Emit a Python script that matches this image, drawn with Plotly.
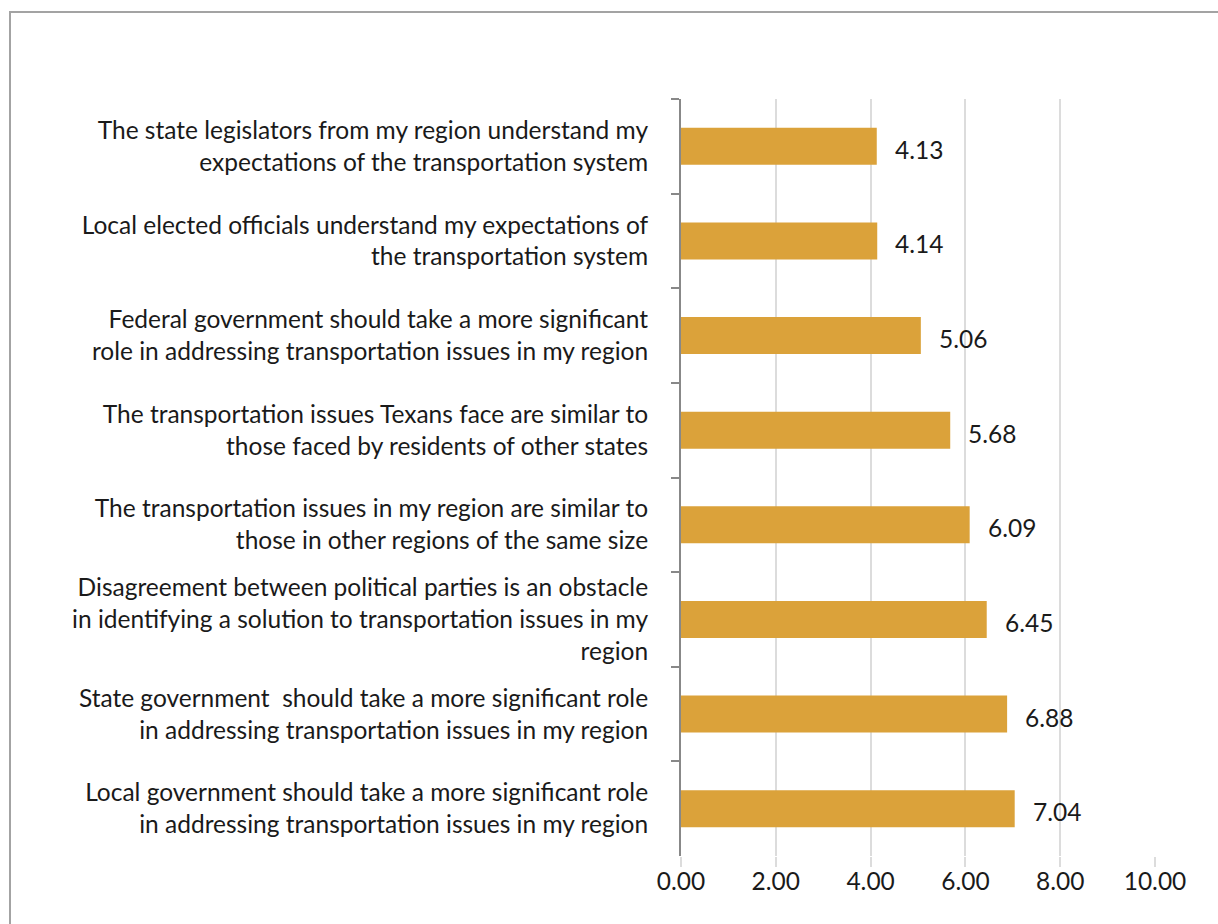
import plotly.graph_objects as go

# Survey statements, listed top to bottom, and their mean agreement scores
statements = [
    "The state legislators from my region understand my<br>expectations of the transportation system",
    "Local elected officials understand my expectations of<br>the transportation system",
    "Federal government should take a more significant<br>role in addressing transportation issues in my region",
    "The transportation issues Texans face are similar to<br>those faced by residents of other states",
    "The transportation issues in my region are similar to<br>those in other regions of the same size",
    "Disagreement between political parties is an obstacle<br>in identifying a solution to transportation issues in my<br>region",
    "State government&nbsp; should take a more significant role<br>in addressing transportation issues in my region",
    "Local government should take a more significant role<br>in addressing transportation issues in my region",
]
scores = [4.13, 4.14, 5.06, 5.68, 6.09, 6.45, 6.88, 7.04]
x_ticks = [0, 2, 4, 6, 8, 10]

FONT = "Lato"
FS = 24.5
TEXT = "#1a1a1a"

fig = go.Figure(
    go.Bar(
        x=scores,
        y=statements,
        orientation="h",
        marker=dict(color="#DBA23A", line=dict(width=0)),
        hoverinfo="x+y",
    )
)

# value labels to the right of each bar
for s, v in zip(statements, scores):
    fig.add_annotation(
        x=v, y=s, text=f"{v:.2f}", showarrow=False,
        xanchor="left", xshift=16, yshift=-3,
        font=dict(family=FONT, size=FS, color=TEXT),
    )

# outer frame around the chart
W, H = 1218, 924
ml, mr, mt, mb = 681, 63, 99, 68
pw, ph = W - ml - mr, H - mt - mb
fig.add_shape(
    type="rect", xref="paper", yref="paper",
    x0=(10 - ml) / pw, x1=(W + 20 - ml) / pw,
    y0=(H - mb - (H + 20)) / ph, y1=(H - mb - 12) / ph,
    line=dict(color="#a3a3a3", width=2), fillcolor="rgba(0,0,0,0)", layer="below",
)

fig.update_layout(
    width=W, height=H,
    margin=dict(l=ml, r=mr, t=mt, b=mb),
    paper_bgcolor="white", plot_bgcolor="white",
    bargap=0.61,
    showlegend=False,
    font=dict(family=FONT, size=FS, color=TEXT),
    xaxis=dict(
        range=[0, 10], tickvals=x_ticks, tickformat=".2f",
        showgrid=True, gridcolor="#dcdcdc", gridwidth=2,
        ticks="outside", ticklen=10, tickcolor="#dcdcdc", tickwidth=2,
        showline=False, zeroline=False,
        ticklabelstandoff=-6,
        tickfont=dict(family=FONT, size=FS, color=TEXT),
    ),
    yaxis=dict(
        type="category", autorange="reversed",
        tickson="boundaries", ticks="outside", ticklen=8,
        tickcolor="#888888", tickwidth=2,
        showline=True, linecolor="#888888", linewidth=2,
        showgrid=False, zeroline=False,
        ticklabelstandoff=26,
        tickfont=dict(family=FONT, size=FS, color=TEXT),
    ),
)

fig.write_html("out.html")
